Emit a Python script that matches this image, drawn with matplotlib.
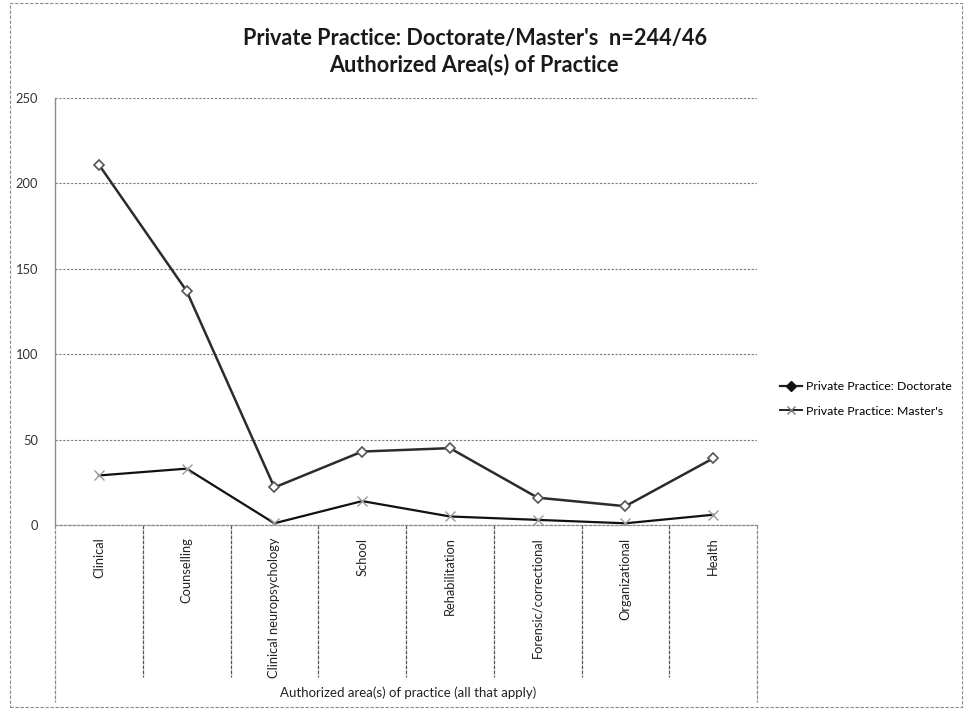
import matplotlib
matplotlib.use("Agg")
import matplotlib.pyplot as plt
from matplotlib.lines import Line2D
from matplotlib.patches import Rectangle

# Survey counts per authorized area of practice
categories = ["Clinical", "Counselling", "Clinical neuropsychology", "School",
              "Rehabilitation", "Forensic/correctional", "Organizational", "Health"]
doctorate = [211, 137, 22, 43, 45, 16, 11, 39]
masters = [29, 33, 1, 14, 5, 3, 1, 6]
y_ticks = [0, 50, 100, 150, 200, 250]

plt.rcParams["font.family"] = ["Lato", "DejaVu Sans"]

W, H = 965, 709
fig = plt.figure(figsize=(W / 100, H / 100), dpi=100)
fig.patch.set_facecolor("white")

# plot area in pixel terms
left, right, top, bottom = 55, 757, 98, 525
ax = fig.add_axes([left / W, (H - bottom) / H, (right - left) / W, (bottom - top) / H])

x = list(range(len(categories)))
ax.plot(x, doctorate, color="#2b2b2b", lw=1.8, marker="D", ms=5.5,
        mfc="white", mec="#555555", mew=1.2, zorder=3)
ax.plot(x, masters, color="#111111", lw=1.6, marker="x", ms=7,
        mec="#9a9a9a", mew=1.0, zorder=3)

ax.set_xlim(-0.5, len(categories) - 0.5)
ax.set_ylim(0, 250)
ax.set_yticks(y_ticks)
ax.set_yticklabels([str(v) for v in y_ticks], fontsize=9.3, color="#333333")
ax.tick_params(axis="y", length=0, pad=12)

ax.set_xticks(x)
ax.set_xticklabels(categories, rotation=90, fontsize=9.3, color="#222222",
                   va="top", ha="center")
ax.tick_params(axis="x", length=0, pad=9)

ax.grid(axis="y", color="#7a7a7a", linestyle=(0, (2, 1.5)), lw=0.8)
ax.set_axisbelow(True)
for s in ("top", "right"):
    ax.spines[s].set_visible(False)
ax.spines["left"].set_color("#8a8a8a")
ax.spines["left"].set_linewidth(1.0)
ax.spines["bottom"].set_color("#8a8a8a")
ax.spines["bottom"].set_linestyle((0, (2, 1.5)))
ax.spines["bottom"].set_linewidth(0.9)

# category separators below the axis
sep_bottom = (677 - top) / (bottom - top)
edge_bottom = (702 - top) / (bottom - top)
trans = ax.get_xaxis_transform()
for b in [i + 0.5 for i in range(len(categories) - 1)]:
    ax.plot([b, b], [0, -(sep_bottom - 1)], transform=trans, color="#555555",
            lw=0.9, linestyle=(0, (3, 1)), clip_on=False)
for b in (-0.5, len(categories) - 0.5):
    ax.plot([b, b], [0, -(edge_bottom - 1)], transform=trans, color="#8a8a8a",
            lw=0.9, linestyle=(0, (3, 1)), clip_on=False)

fig.text(408 / W, 1 - 693 / H,
         "Authorized area(s) of practice (all that apply)",
         ha="center", va="center", fontsize=9.5, color="#222222")

fig.text(475 / W, 1 - 38 / H, "Private Practice: Doctorate/Master's  n=244/46",
         ha="center", va="center", fontsize=15.6, fontweight="bold", color="#1a1a1a")
fig.text(474 / W, 1 - 65 / H, "Authorized Area(s) of Practice",
         ha="center", va="center", fontsize=15.6, fontweight="bold", color="#1a1a1a")

handles = [
    Line2D([], [], color="#222222", lw=1.6, marker="D", ms=5, mfc="#111111", mec="#111111"),
    Line2D([], [], color="#222222", lw=1.4, marker="x", ms=6, mec="#777777"),
]
fig.legend(handles, ["Private Practice: Doctorate", "Private Practice: Master's"],
           loc="upper left", bbox_to_anchor=(774 / W, 1 - 375 / H), frameon=False,
           fontsize=8.8, handlelength=1.8, handletextpad=0.3, labelspacing=1.1,
           borderpad=0)

# outer chart border
fig.add_artist(Rectangle((10 / W, 2 / H), (962 - 10) / W, (706 - 2) / H,
                         transform=fig.transFigure, fill=False, edgecolor="#8a8a8a",
                         lw=0.8, linestyle=(0, (3, 1.5))))

fig.savefig("out.png", dpi=100, facecolor="white")
